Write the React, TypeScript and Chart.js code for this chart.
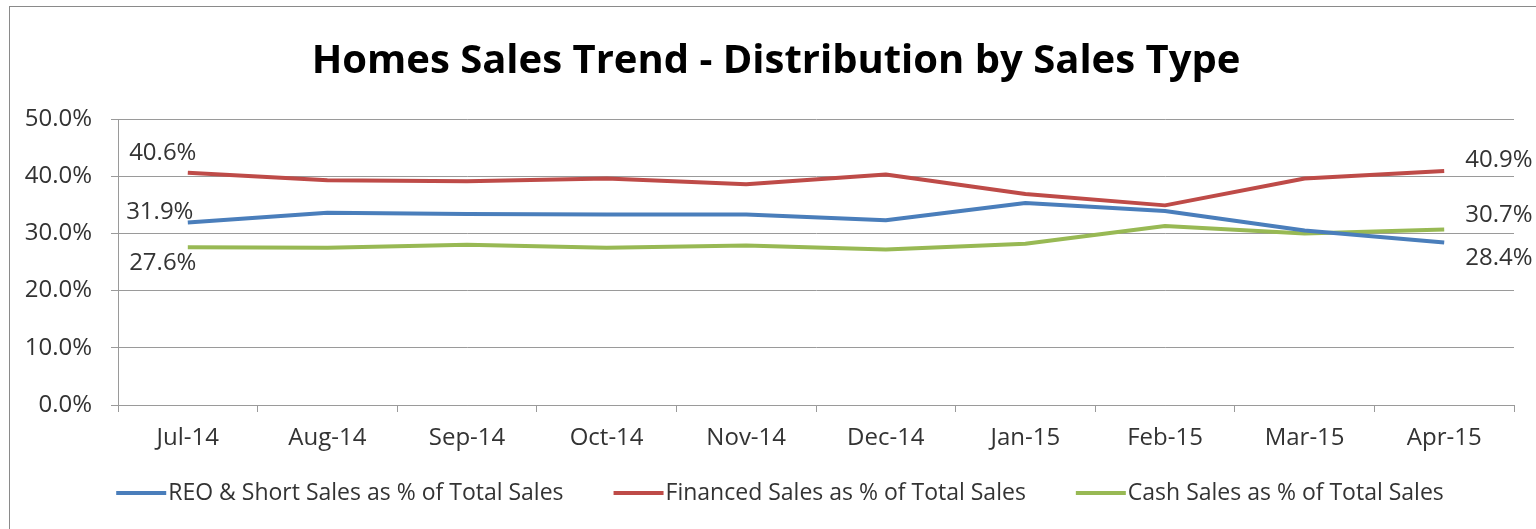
import React, { useEffect, useRef } from "react";
import { Chart, registerables } from "chart.js";

Chart.register(...registerables);

const titleText = "Homes Sales Trend - Distribution by Sales Type";
const categories = ["Jul-14", "Aug-14", "Sep-14", "Oct-14", "Nov-14", "Dec-14", "Jan-15", "Feb-15", "Mar-15", "Apr-15"];
const seriesLabels = [
  "REO & Short Sales as % of Total Sales",
  "Financed Sales as % of Total Sales",
  "Cash Sales as % of Total Sales",
];
const reoShortValues = [31.9, 33.6, 33.4, 33.3, 33.3, 32.3, 35.3, 33.9, 30.5, 28.4];
const financedValues = [40.6, 39.3, 39.1, 39.6, 38.6, 40.3, 36.9, 34.9, 39.6, 40.9];
const cashValues = [27.6, 27.5, 28.0, 27.5, 27.9, 27.2, 28.2, 31.3, 30.0, 30.7];
const yMin = 0;
const yMax = 50;
const yStep = 10;

const seriesColors = ["#4A7EBB", "#BE4B48", "#98B954"];
const FONT = "'Open Sans', 'Noto Sans', sans-serif";
const TEXT = "#333333";
const GRID = "#9a9a9a";

// label placement offsets (style only)
const labelOffsets = [
  { fx: -28, fy: -10, lx: 21, ly: 16 },
  { fx: -25, fy: -20, lx: 21, ly: -11 },
  { fx: -25, fy: 16, lx: 21, ly: -14 },
];

const overlayPlugin = {
  id: "overlay",
  afterDraw(chart: any) {
    const ctx = chart.ctx;
    ctx.save();
    // title
    ctx.fillStyle = "#000";
    ctx.font = `bold 40px ${FONT}`;
    ctx.textAlign = "center";
    ctx.textBaseline = "middle";
    ctx.fillText(titleText, 776, 62);

    // data labels
    ctx.font = `24px ${FONT}`;
    ctx.fillStyle = TEXT;
    chart.data.datasets.forEach((ds: any, i: number) => {
      const meta = chart.getDatasetMeta(i);
      const pts = meta.data;
      const first = pts[0];
      const last = pts[pts.length - 1];
      const off = labelOffsets[i];
      ctx.textAlign = "center";
      ctx.fillText(ds.data[0].toFixed(1) + "%", first.x + off.fx, first.y + off.fy);
      ctx.textAlign = "left";
      ctx.fillText(ds.data[ds.data.length - 1].toFixed(1) + "%", last.x + off.lx, last.y + off.ly);
    });

    // legend
    ctx.font = `23px ${FONT}`;
    const lineLen = 50;
    const gap = 2;
    const spacing = 50;
    const widths = chart.data.datasets.map((ds: any) => lineLen + gap + ctx.measureText(ds.label).width);
    const total = widths.reduce((a: number, b: number) => a + b, 0) + spacing * (widths.length - 1);
    let x = 780 - total / 2;
    const y = 493;
    chart.data.datasets.forEach((ds: any, i: number) => {
      ctx.strokeStyle = ds.borderColor;
      ctx.lineWidth = 4;
      ctx.lineCap = "butt";
      ctx.beginPath();
      ctx.moveTo(x, y);
      ctx.lineTo(x + lineLen, y);
      ctx.stroke();
      ctx.fillStyle = TEXT;
      ctx.textAlign = "left";
      ctx.textBaseline = "middle";
      ctx.fillText(ds.label, x + lineLen + gap, y);
      x += widths[i] + spacing;
    });
    ctx.restore();
  },
};

export default function App() {
  const ref = useRef<HTMLCanvasElement | null>(null);
  useEffect(() => {
    if (!ref.current) return;
    const values = [reoShortValues, financedValues, cashValues];
    const chart = new Chart(ref.current, {
      type: "line",
      data: {
        labels: categories,
        datasets: values.map((v, i) => ({
          label: seriesLabels[i],
          data: v,
          borderColor: seriesColors[i],
          backgroundColor: seriesColors[i],
          borderWidth: 4,
          pointRadius: 0,
          tension: 0,
          borderJoinStyle: "round" as const,
          fill: false,
        })),
      },
      options: {
        animation: false,
        responsive: false,
        devicePixelRatio: 1,
        layout: { padding: { top: 119, left: 0, right: 22, bottom: 74 } },
        plugins: {
          legend: { display: false },
          title: { display: false },
          tooltip: { enabled: false },
        },
        scales: {
          x: {
            type: "category",
            offset: true,
            afterFit: (s: any) => {
              s.height = 50;
            },
            grid: {
              display: true,
              offset: true,
              drawOnChartArea: false,
              drawTicks: true,
              tickLength: 7,
              color: GRID,
            },
            border: { display: true, color: GRID },
            ticks: {
              color: TEXT,
              font: { family: FONT, size: 24 },
              padding: 12,
              maxRotation: 0,
              autoSkip: false,
            },
          },
          y: {
            min: yMin,
            max: yMax,
            afterFit: (s: any) => {
              s.width = 118;
            },
            grid: { color: GRID, tickLength: 7, drawTicks: true },
            border: { display: true, color: GRID },
            ticks: {
              stepSize: yStep,
              color: TEXT,
              font: { family: FONT, size: 24 },
              padding: 19,
              callback: (v: any) => Number(v).toFixed(1) + "%",
            },
          },
        },
      },
      plugins: [overlayPlugin],
    });
    return () => chart.destroy();
  }, []);

  return (
    <div style={{ position: "fixed", left: 0, top: 0, width: 1536, height: 529, background: "#fff", overflow: "hidden" }}>
      <div
        style={{
          position: "absolute",
          left: 9,
          top: 6,
          width: 1600,
          height: 600,
          border: "1px solid #8a8a8a",
          boxSizing: "border-box",
        }}
      />
      <canvas ref={ref} width={1536} height={529} style={{ position: "absolute", left: 0, top: 0 }} />
    </div>
  );
}
